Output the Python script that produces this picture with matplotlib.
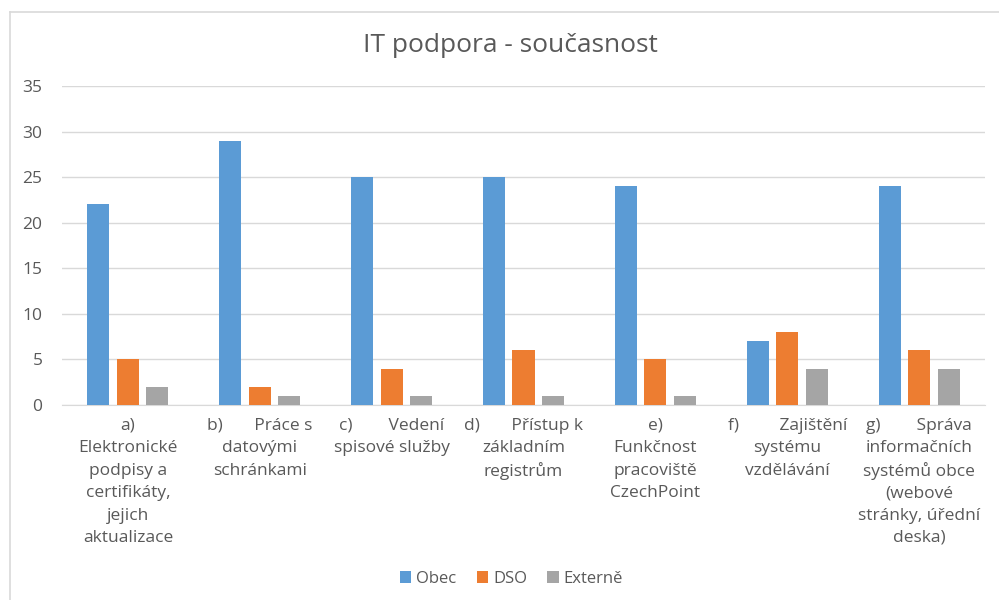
import numpy as np
import matplotlib.pyplot as plt
from matplotlib.lines import Line2D

plt.rcParams['font.family'] = ['Open Sans', 'DejaVu Sans']

categories = [
    'a)\nElektronické\npodpisy a\ncertifikáty,\njejich\naktualizace',
    'b)       Práce s\ndatovými\nschránkami',
    'c)        Vedení\nspisové služby',
    'd)       Přístup k\nzákladním\nregistrům',
    'e)\nFunkčnost\npracoviště\nCzechPoint',
    'f)         Zajištění\nsystému\nvzdělávání',
    'g)        Správa\ninformačních\nsystémů obce\n(webové\nstránky, úřední\ndeska)',
]
obec = [22, 29, 25, 25, 24, 7, 24]
dso = [5, 2, 4, 6, 5, 8, 6]
externe = [2, 1, 1, 1, 1, 4, 4]
series = [('Obec', obec, '#5B9BD5'), ('DSO', dso, '#ED7D31'), ('Externě', externe, '#A5A5A5')]

fig = plt.figure(figsize=(9.99, 6), dpi=100)
ax = fig.add_axes([62/999, 195/600, 923/999, 319/600])

x = np.arange(len(categories))
w = 0.167
pitch = 0.224
for i, (name, vals, col) in enumerate(series):
    ax.bar(x + (i - 1) * pitch, vals, w, color=col, label=name, zorder=3)

ax.set_xlim(-0.5, len(categories) - 0.5)
ax.set_ylim(0, 35)
ax.set_yticks(range(0, 36, 5))
ax.grid(axis='y', color='#D9D9D9', lw=1, zorder=0)
for s in ['top', 'right', 'left']:
    ax.spines[s].set_visible(False)
ax.spines['bottom'].set_color('#D9D9D9')
ax.tick_params(axis='both', length=0, colors='#595959', labelsize=12.5)
ax.tick_params(axis='y', pad=14)
ax.set_xticks(x)
ax.set_xticklabels([])

# category labels, one line at a time so the line pitch stays even
for i, lab in enumerate(categories):
    for j, line in enumerate(lab.split('\n')):
        ax.annotate(line, xy=(x[i], 0), xycoords=('data', 'axes fraction'),
                    xytext=(0, -21 - 22.4 * j), textcoords='offset pixels',
                    ha='center', va='center', fontsize=12.5, color='#595959')

fig.text(0.511, 0.925, 'IT podpora - současnost', ha='center', va='center',
         fontsize=19, color='#595959')

leg = fig.legend(loc='center', bbox_to_anchor=(0.512, 0.035), ncol=3, frameon=False,
                 fontsize=12, handlelength=0.7, handleheight=0.7, handletextpad=0.3,
                 columnspacing=1.2)
for t in leg.get_texts():
    t.set_color('#595959')

# chart border
fig.add_artist(Line2D([10/999, 10/999], [0, 588/600], transform=fig.transFigure, color='#D9D9D9', lw=1.2))
fig.add_artist(Line2D([10/999, 1], [588/600, 588/600], transform=fig.transFigure, color='#D9D9D9', lw=1.2))

fig.savefig('out.png', dpi=100)
